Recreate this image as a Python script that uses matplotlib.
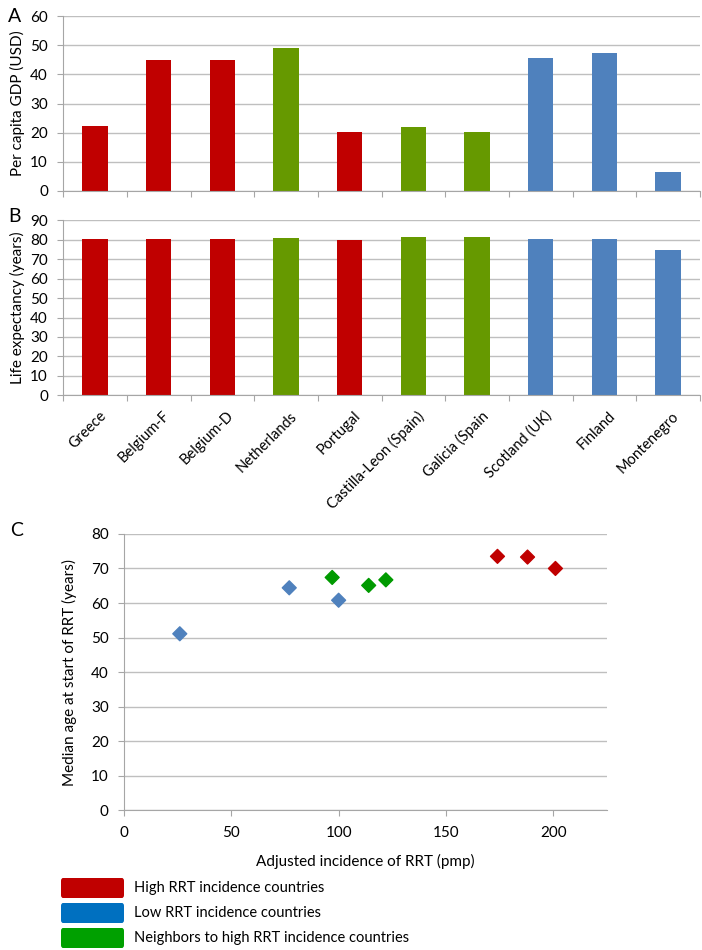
import matplotlib
matplotlib.use("Agg")
import matplotlib.pyplot as plt
import matplotlib.patches as mpatches

plt.rcParams["font.family"] = ["Lato", "DejaVu Sans"]

# data
countries = ["Greece", "Belgium-F", "Belgium-D", "Netherlands", "Portugal",
             "Castilla-Leon (Spain)", "Galicia (Spain", "Scotland (UK)",
             "Finland", "Montenegro"]
groups = ["high", "high", "high", "neighbor", "high",
          "neighbor", "neighbor", "low", "low", "low"]
gdp = [22.3, 44.9, 44.9, 49.0, 20.4, 21.8, 20.3, 45.7, 47.2, 6.4]
life_exp = [80.5, 80.2, 80.2, 80.9, 79.8, 81.7, 81.7, 80.2, 80.2, 74.7]

rrt_incidence = [26, 77, 100, 97, 114, 122, 174, 188, 201]
median_age = [51.1, 64.4, 60.8, 67.4, 65.1, 66.7, 73.5, 73.3, 70.0]
scatter_groups = ["low", "low", "low", "neighbor", "neighbor", "neighbor",
                  "high", "high", "high"]

bar_colors = {"high": "#C00000", "neighbor": "#669900", "low": "#4F81BD"}
dot_colors = {"high": "#C00000", "neighbor": "#009A00", "low": "#4F81BD"}
legend_labels = ["High RRT incidence countries", "Low RRT incidence countries",
                 "Neighbors to high RRT incidence countries"]
legend_colors = ["#C00000", "#0070C0", "#00A000"]

grid_col = "#BFBFBF"
axis_col = "#A6A6A6"

fig = plt.figure(figsize=(7.02, 9.5), dpi=100)


def style_axes(ax):
    ax.yaxis.grid(True, color=grid_col, lw=1)
    ax.set_axisbelow(True)
    for s in ["top", "right"]:
        ax.spines[s].set_visible(False)
    for s in ["left", "bottom"]:
        ax.spines[s].set_color(axis_col)
    ax.tick_params(axis="both", colors=axis_col, labelcolor="black",
                   labelsize=11, length=4, direction="out", pad=7)


def style_bar_axes(ax, ymax, step):
    ax.set_xlim(-0.5, len(countries) - 0.5)
    ax.set_ylim(0, ymax)
    ax.set_yticks(range(0, ymax + 1, step))
    ax.set_xticks([i - 0.5 for i in range(len(countries) + 1)])
    ax.set_xticklabels([])
    style_axes(ax)


# Panel A
axA = fig.add_axes([0.09, 0.799, 0.907, 0.184])
axA.bar(range(len(countries)), gdp, width=0.4,
        color=[bar_colors[g] for g in groups])
style_bar_axes(axA, 60, 10)
axA.set_ylabel("Per capita GDP (USD)", fontsize=11)
fig.text(0.012, 0.983, "A", fontsize=14, va="center")

# Panel B
axB = fig.add_axes([0.09, 0.584, 0.907, 0.184])
axB.bar(range(len(countries)), life_exp, width=0.4,
        color=[bar_colors[g] for g in groups])
style_bar_axes(axB, 90, 10)
axB.set_ylabel("Life expectancy (years)", fontsize=11)
fig.text(0.012, 0.772, "B", fontsize=14, va="center")
for i, name in enumerate(countries):
    axB.text(i + 0.06, -7, name, rotation=45, ha="right", va="top",
             fontsize=10.5, rotation_mode="anchor")

# Panel C
axC = fig.add_axes([0.1766, 0.147, 0.688, 0.291])
axC.scatter(rrt_incidence, median_age, marker="D", s=50,
            color=[dot_colors[g] for g in scatter_groups], zorder=3)
axC.set_xlim(0, 225)
axC.set_ylim(0, 80)
axC.set_xticks([0, 50, 100, 150, 200])
axC.set_yticks(range(0, 81, 10))
style_axes(axC)
axC.set_xlabel("Adjusted incidence of RRT (pmp)", fontsize=11, labelpad=10)
axC.set_ylabel("Median age at start of RRT (years)", fontsize=11, labelpad=10)
fig.text(0.014, 0.442, "C", fontsize=14, va="center")

# legend boxes
for i, (lab, col) in enumerate(zip(legend_labels, legend_colors)):
    y_top = 878 + i * 25
    fig.patches.append(mpatches.FancyBboxPatch(
        (61 / 702, 1 - (y_top + 20) / 950), 63 / 702, 20 / 950,
        boxstyle="round,pad=0,rounding_size=0.003",
        transform=fig.transFigure, facecolor=col, edgecolor="none"))
    fig.text(134 / 702, 1 - (y_top + 10) / 950, lab, fontsize=10.5,
             va="center")

fig.savefig("out.png", dpi=100)
